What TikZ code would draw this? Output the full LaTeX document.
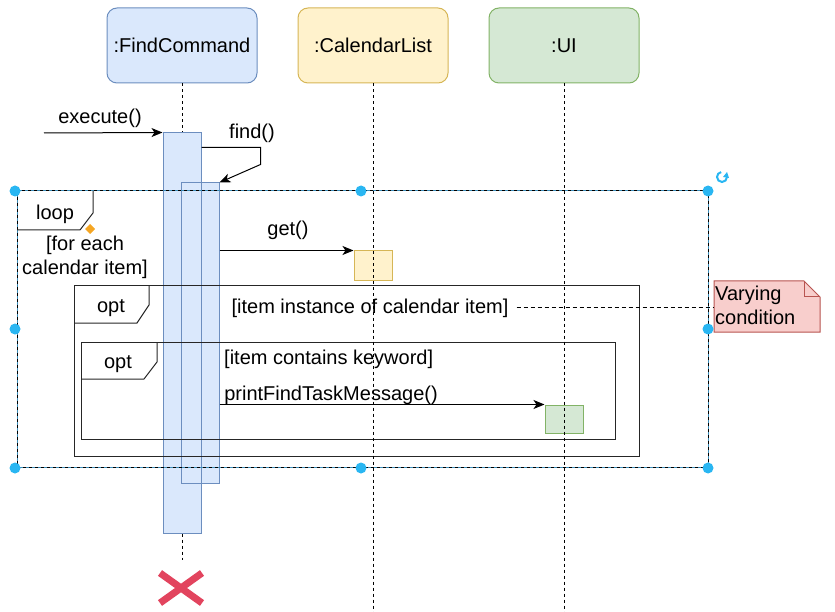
\documentclass[tikz,border=0pt]{standalone}
\usepackage{fontspec}
\setmainfont{Liberation Sans}
\usetikzlibrary{arrows.meta,positioning}

\definecolor{fcFill}{HTML}{DAE8FC}
\definecolor{fcDraw}{HTML}{6C8EBF}
\definecolor{clFill}{HTML}{FFF2CC}
\definecolor{clDraw}{HTML}{D6B656}
\definecolor{uiFill}{HTML}{D5E8D4}
\definecolor{uiDraw}{HTML}{82B366}
\definecolor{noteFill}{HTML}{F8CECC}
\definecolor{noteDraw}{HTML}{B85450}
\definecolor{selBlue}{HTML}{29B6F2}
\definecolor{selLine}{HTML}{3C8DB8}
\definecolor{xRed}{HTML}{E2445E}
\definecolor{hintOrange}{HTML}{F5A623}

\begin{document}
\begin{tikzpicture}[x=1pt,y=-1pt,
    every node/.style={font=\fontsize{20}{24}\selectfont, inner sep=2pt},
    head/.style={draw, rounded corners=10pt, minimum width=150pt, minimum height=75pt, line width=1pt},
    act/.style={draw=fcDraw, fill=fcFill, minimum width=38pt, inner sep=0pt, line width=1pt},
    lifeline/.style={dash pattern=on 3pt off 3pt, line width=1pt},
    msg/.style={-{Stealth[length=11pt,width=9pt,inset=3pt]}, line width=1pt},
    frame/.style={line width=1pt, draw=black!85},
    handle/.style={circle, fill=selBlue, minimum size=11pt, inner sep=0pt}
]
\useasboundingbox (0,0) rectangle (835,612);

% heads
\node[head, fill=fcFill, draw=fcDraw] (fc) at (182,45.5) {:FindCommand};
\node[head, fill=clFill, draw=clDraw] (cl) at (373,45.5) {:CalendarList};
\node[head, fill=uiFill, draw=uiDraw] (ui) at (564,45.5) {:UI};

\coordinate (fcEnd) at (182,560);
\coordinate (clEnd) at (373,612);
\coordinate (uiEnd) at (564,612);
\draw[lifeline] (fc.south) -- (fcEnd);

% activations
\node[act, minimum height=400pt] (fcAct) at (182,333) {};
\node[act, minimum height=300pt] (fcAct2) at (200,333) {};
\draw[fcDraw, line width=1pt] (fcAct.north east) -- (fcAct.south east);
\node[act, draw=clDraw, fill=clFill, minimum height=30pt] (clAct) at (373,266) {};
\node[act, draw=uiDraw, fill=uiFill, minimum height=28pt] (uiAct) at (564,419) {};

% loop frame (selected)
\draw[selLine, line width=1pt] (17,191) rectangle (708,467);
\draw[dash pattern=on 3pt off 3pt, line width=1pt] (17,191) rectangle (708,467);
\draw[frame] (17,230) -- (80,230) -- (93,213) -- (93,191);
\node (loopLbl) at (55,214) {loop};
\node[align=center] (loopGuard) at (85,257) {[for each\\calendar item]};

% opt frames
\draw[frame] (74,286) rectangle (639,456);
\draw[frame] (74,323) -- (137,323) -- (149,305) -- (149,286);
\node (optLbl) at (111,308) {opt};
\node (optGuard) at (370,308) {[item instance of calendar item]};

\draw[frame] (81,342) rectangle (615,439);
\draw[frame] (81,379) -- (144,379) -- (157,362) -- (157,342);
\node (optLbl2) at (118,364) {opt};
\node[anchor=west] (optGuard2) at (222,359) {[item contains keyword]};

\draw[lifeline] (cl.south) -- (clEnd);
\draw[lifeline] (ui.south) -- (uiEnd);

% messages
\coordinate (exeStart) at (44,133);
\draw[msg] (exeStart) -- (fcAct.north west);
\node (exeLbl) at (100,118) {execute()};
\draw[msg] ([yshift=-15pt]fcAct.north east) -- ++(59,0) -- ++(0,17) -- (fcAct2.north east);
\node (findLbl) at (252,133) {find()};
\draw[msg] (fcAct2.east |- clAct.north) -- (clAct.north west);
\node (getLbl) at (288,230) {get()};
\draw[msg] (fcAct2.east |- uiAct.north) -- (uiAct.north west);
\node (printLbl) at (331,395) {printFindTaskMessage()};

% note
\draw[fill=noteFill, draw=noteDraw, line width=1pt] (714,281) -- (804,281) -- (820,297) -- (820,332) -- (714,332) -- cycle;
\draw[noteDraw, line width=1pt] (804,281) -- (804,297) -- (820,297);
\node[anchor=west, align=left, inner sep=1pt] (note) at (714,305) {Varying\\condition};
\coordinate (guardEnd) at ([xshift=6pt]optGuard.east |- 0,307);
\draw[dash pattern=on 4pt off 3pt, line width=1pt] (guardEnd) -- (note.west |- guardEnd);

% destroy
\coordinate (destroy) at (181,588);
\draw[xRed, line width=7pt] (destroy) ++(-21,-15) -- ++(42,30);
\draw[xRed, line width=7pt] (destroy) ++(-21,15) -- ++(42,-30);

% selection handles
\foreach \hx/\hy in {15/191, 361/191, 708/191, 15/329, 708/329, 15/468, 361/468, 708/468}
    \node[handle] at (\hx,\hy) {};
\draw[selBlue, line width=2pt] (727,177) arc[start angle=0, end angle=260, radius=5];
\fill[selBlue] (727,172) -- (729,178) -- (723,177) -- cycle;
\fill[hintOrange] (90,224) -- (95,229) -- (90,234) -- (85,229) -- cycle;
\end{tikzpicture}
\end{document}
